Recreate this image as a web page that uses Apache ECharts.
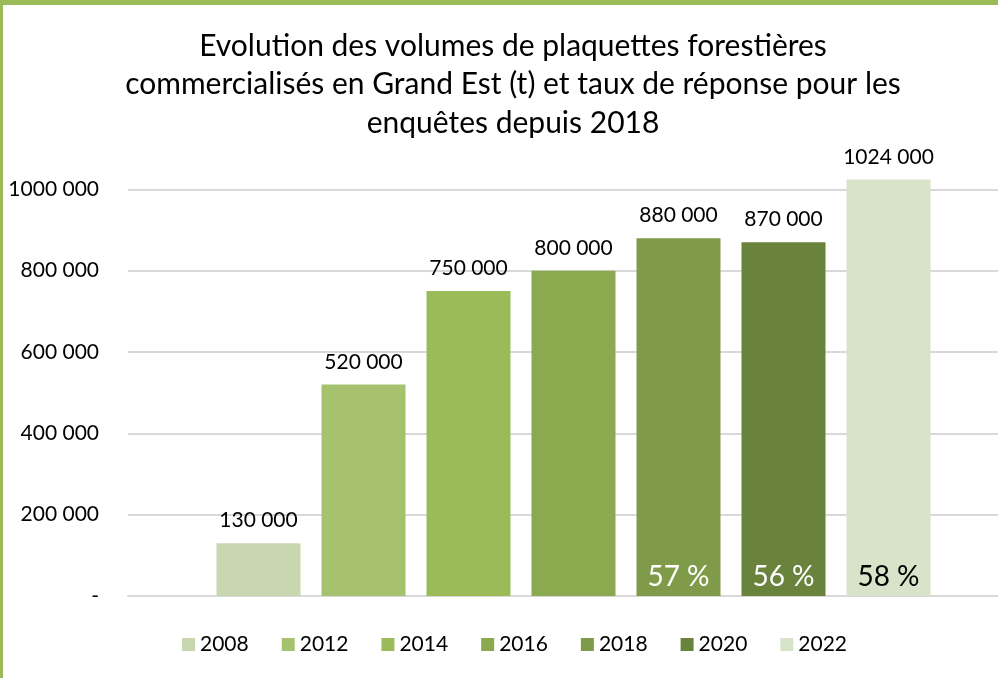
<!DOCTYPE html>
<html>
<head>
<meta charset="utf-8">
<script src="https://cdn.jsdelivr.net/npm/echarts@6/dist/echarts.min.js"></script>
<style>
  html, body { margin: 0; padding: 0; background: #fff; overflow: hidden; }
  #wrap { position: relative; width: 998px; height: 678px; overflow: hidden; }
  #chart { position: absolute; left: 0; top: 0; width: 1040px; height: 678px; }
  .edge { position: absolute; background: #9BBB59; }
</style>
</head>
<body>
<div id="wrap">
  <div id="chart"></div>
  <div class="edge" style="left:0;top:0;width:998px;height:5px;"></div>
  <div class="edge" style="left:0;top:0;width:3px;height:678px;"></div>
</div>
<script>
// années (une série par année, une seule catégorie)
var years = ["2008", "2012", "2014", "2016", "2018", "2020", "2022"];
// volumes commercialisés (t)
var volumes = [130000, 520000, 750000, 800000, 880000, 870000, 1024000];
// taux de réponse aux enquêtes (%)
var rates = [null, null, null, null, 57, 56, 58];
var colors = ["#C9D7B0", "#A6C26F", "#9BBB59", "#8BA94F", "#7F9B49", "#6A833C", "#D8E4C9"];
var rateColors = [null, null, null, null, "#ffffff", "#ffffff", "#000000"];
var categories = ["volumes"];

var font = "Lato";

function fmt(v) {
  if (v === 0) return "-";
  return String(v).replace(/\B(?=(\d{3})+(?!\d))/g, " ").replace(/^(\d) (\d{3} \d{3})$/, "$1$2");
}

var chart = echarts.init(document.getElementById("chart"));

var series = years.map(function (y, i) {
  var s = {
    name: y,
    type: "bar",
    data: [volumes[i]],
    barWidth: 84,
    barGap: "25%",
    itemStyle: { color: colors[i] },
    label: {
      show: true,
      position: "top",
      distance: 12,
      color: "#000",
      fontFamily: font,
      fontSize: 21,
      formatter: function (p) { return fmt(p.value); }
    }
  };
  if (rates[i] != null) {
    s.markPoint = {
      symbol: "rect",
      symbolSize: 0,
      data: [{ coord: [0, 0], value: rates[i] }],
      label: {
        show: true,
        position: "top",
        distance: 5,
        color: rateColors[i],
        fontFamily: font,
        fontSize: 28,
        formatter: function (p) { return p.value + " %"; }
      }
    };
  }
  return s;
});

chart.setOption({
  animation: false,
  title: {
    text: "Evolution des volumes de plaquettes forestières\ncommercialisés en Grand Est (t) et taux de réponse pour les\nenquêtes depuis 2018",
    left: 508,
    textAlign: "center",
    top: 22,
    textStyle: {
      color: "#000",
      fontFamily: font,
      fontSize: 30,
      fontWeight: "normal",
      lineHeight: 38.5
    }
  },
  legend: {
    data: years,
    left: 177,
    top: 629,
    itemWidth: 13,
    itemHeight: 13,
    itemGap: 33,
    icon: "rect",
    textStyle: { color: "#000", fontFamily: font, fontSize: 21, padding: [0, 0, 0, 0] }
  },
  grid: { left: 128, right: 21, top: 108, bottom: 82 },
  xAxis: {
    type: "category",
    data: categories,
    axisLine: { show: true, lineStyle: { color: "#D9D9D9", width: 2 } },
    axisTick: { show: false },
    axisLabel: { show: false }
  },
  yAxis: {
    type: "value",
    min: 0,
    max: 1200000,
    interval: 200000,
    axisLine: { show: false },
    axisTick: { show: false },
    axisLabel: {
      showMaxLabel: false,
      color: "#000",
      fontFamily: font,
      fontSize: 21,
      margin: 29,
      formatter: fmt
    },
    splitLine: { showMaxLine: false, lineStyle: { color: "#D9D9D9", width: 2 } }
  },
  series: series
});
</script>
</body>
</html>
